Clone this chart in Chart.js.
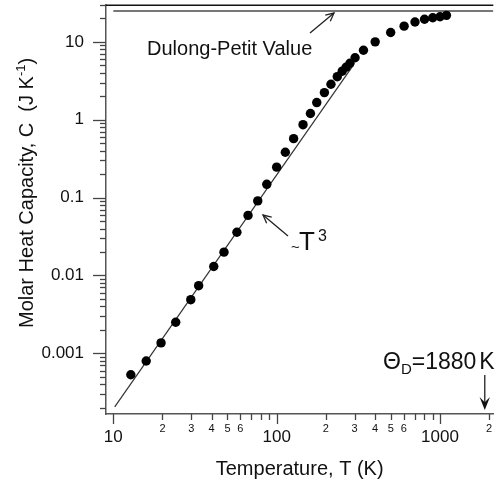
<!DOCTYPE html>
<html>
<head>
<meta charset="utf-8">
<script src="https://cdn.jsdelivr.net/npm/chart.js@4.4.0/dist/chart.umd.min.js"></script>
<style>
  html, body { margin: 0; padding: 0; background: #fff; }
  #wrap { width: 498px; height: 484px; }
</style>
</head>
<body>
<div id="wrap"><canvas id="heatChart" width="498" height="484"></canvas></div>
<script>
// measured molar heat capacity: temperature (K) and C (J/K)
const temps = [12.8, 15.9, 19.6, 24.1, 29.8, 33.3, 41.2, 47.6, 57.1, 66.8, 76.6, 87.0,
  100, 113, 127, 145, 161, 176, 196, 215, 235, 252, 266, 281, 302, 340, 401, 499,
  603, 703, 804, 903, 1000, 1095];
const heatCap = [5.3e-4, 7.95e-4, 1.36e-3, 2.5e-3, 4.88e-3, 7.38e-3, 0.013, 0.0199,
  0.0358, 0.059, 0.0906, 0.148, 0.246, 0.382, 0.571, 0.863, 1.2, 1.66, 2.23, 2.85,
  3.57, 4.2, 4.72, 5.31, 6.25, 7.79, 10.0, 13.2, 15.9, 18.0, 19.5, 20.4, 21.0, 21.9];

// ~T^3 guide line (end points)
const t3Temps = [10.2, 294];
const t3Cap = [2.05e-4, 5.0];

// Dulong-Petit value, 3R
const dpTemps = [10, 2120];
const dpCap = [24.94, 24.94];

const debyeTemp = 1880;

// axis ticks
const xMajor = [10, 100, 1000];
const xMajorLabels = ['10', '100', '1000'];
const xMinorLabels = ['2', '3', '4', '5', '6'];
const yMajor = [0.001, 0.01, 0.1, 1, 10];
const yMajorLabels = ['0.001', '0.01', '0.1', '1', '10'];

const FONT = "'Liberation Sans', Arial, Helvetica, sans-serif";
const X_MIN = 9.02, X_MAX = 2120, Y_MIN = 1.66e-4, Y_MAX = 30;

function logTicks(min, max) {
  const out = [];
  for (let e = Math.floor(Math.log10(min)); e <= Math.ceil(Math.log10(max)); e++) {
    for (let m = 1; m <= 9; m++) {
      const v = m * Math.pow(10, e);
      if (v >= min * 0.999 && v <= max * 1.001) out.push(v);
    }
  }
  return out;
}

function mantissa(v) {
  return Math.round(v / Math.pow(10, Math.floor(Math.log10(v) + 1e-9)));
}

function majorLabel(v, majors, labels) {
  const i = majors.findIndex(m => Math.abs(m - v) / m < 1e-6);
  return i >= 0 ? labels[i] : '';
}

function noPadding(s) {
  s.paddingLeft = 0;
  s.paddingRight = 0;
  s.paddingTop = 0;
  s.paddingBottom = 0;
}

function arrow(ctx, x1, y1, x2, y2, filled) {
  const a = Math.atan2(y2 - y1, x2 - x1);
  const len = filled ? 14 : 9, spread = filled ? 0.38 : 0.45;
  ctx.beginPath();
  ctx.moveTo(x1, y1);
  ctx.lineTo(filled ? x2 - Math.cos(a) * 6 : x2, filled ? y2 - Math.sin(a) * 6 : y2);
  ctx.stroke();
  ctx.beginPath();
  ctx.moveTo(x2 - len * Math.cos(a - spread), y2 - len * Math.sin(a - spread));
  ctx.lineTo(x2, y2);
  ctx.lineTo(x2 - len * Math.cos(a + spread), y2 - len * Math.sin(a + spread));
  if (filled) {
    ctx.lineTo(x2 - len * 0.55 * Math.cos(a), y2 - len * 0.55 * Math.sin(a));
    ctx.closePath();
    ctx.fill();
  } else {
    ctx.stroke();
  }
}

const overlay = {
  id: 'overlay',
  afterDraw(chart) {
    const { ctx, chartArea: area, scales: { x, y } } = chart;
    ctx.save();

    // top frame line
    ctx.strokeStyle = '#111';
    ctx.lineWidth = 1.5;
    ctx.beginPath();
    ctx.moveTo(area.left, area.top + 0.5);
    ctx.lineTo(area.right, area.top + 0.5);
    ctx.stroke();

    // tick marks
    ctx.strokeStyle = '#444';
    ctx.lineWidth = 1.3;
    x.ticks.forEach(t => {
      const px = Math.round(x.getPixelForValue(t.value)) + 0.5;
      const len = majorLabel(t.value, xMajor, xMajorLabels) ? 10 : 6;
      ctx.beginPath();
      ctx.moveTo(px, area.bottom);
      ctx.lineTo(px, area.bottom + len);
      ctx.stroke();
    });
    y.ticks.forEach(t => {
      const py = Math.round(y.getPixelForValue(t.value)) + 0.5;
      const len = majorLabel(t.value, yMajor, yMajorLabels) ? 13 : 6;
      ctx.beginPath();
      ctx.moveTo(area.left - len, py);
      ctx.lineTo(area.left, py);
      ctx.stroke();
    });

    // small minor labels on the temperature axis
    ctx.fillStyle = '#111';
    ctx.font = '11px ' + FONT;
    ctx.textAlign = 'center';
    ctx.textBaseline = 'top';
    x.ticks.forEach(t => {
      const m = mantissa(t.value);
      if (m >= 2 && m <= 6) {
        ctx.fillText(xMinorLabels[m - 2], x.getPixelForValue(t.value), area.bottom + 9);
      }
    });

    // y axis title with superscript
    ctx.save();
    ctx.translate(33, 328);
    ctx.rotate(-Math.PI / 2);
    ctx.textAlign = 'left';
    ctx.textBaseline = 'alphabetic';
    let cx = 0;
    ctx.font = '20px ' + FONT;
    const main = 'Molar Heat Capacity, C  (J K';
    ctx.fillText(main, cx, 0);
    cx += ctx.measureText(main).width;
    ctx.font = '13px ' + FONT;
    ctx.fillText('-1', cx, -8);
    cx += ctx.measureText('-1').width;
    ctx.font = '20px ' + FONT;
    ctx.fillText(')', cx, 0);
    ctx.restore();

    // annotations
    ctx.textAlign = 'left';
    ctx.textBaseline = 'alphabetic';
    ctx.font = '20px ' + FONT;
    ctx.fillText('Dulong-Petit Value', 147, 55);

    ctx.font = '15px ' + FONT;
    ctx.fillText('~', 291, 252);
    ctx.font = '26px ' + FONT;
    ctx.fillText('T', 299, 250);
    const tw = ctx.measureText('T').width;
    ctx.font = '16px ' + FONT;
    ctx.fillText('3', 299 + tw + 3, 241);

    let tx = 383;
    ctx.font = '23px ' + FONT;
    ctx.fillText('\u0398', tx, 369);
    tx += ctx.measureText('\u0398').width;
    ctx.font = '15px ' + FONT;
    ctx.fillText('D', tx, 374);
    tx += ctx.measureText('D').width;
    ctx.font = '23px ' + FONT;
    ctx.fillText('=1880', tx, 369);
    tx += ctx.measureText('=1880').width + 3;
    ctx.fillText('K', tx, 369);

    ctx.strokeStyle = '#222';
    ctx.fillStyle = '#111';
    ctx.lineWidth = 1.3;
    arrow(ctx, 310, 33, 334, 13, false);
    arrow(ctx, 288, 236, 263, 215, false);
    const dx = x.getPixelForValue(debyeTemp);
    arrow(ctx, dx, 375, dx, 410, true);

    ctx.restore();
  }
};

const ctx = document.getElementById('heatChart').getContext('2d');
new Chart(ctx, {
  type: 'scatter',
  data: {
    datasets: [
      {
        label: 'C',
        data: temps.map((t, i) => ({ x: t, y: heatCap[i] })),
        backgroundColor: '#000',
        borderColor: '#000',
        pointRadius: 4.7,
        pointBorderWidth: 0
      },
      {
        label: 'T3',
        data: t3Temps.map((t, i) => ({ x: t, y: t3Cap[i] })),
        showLine: true,
        borderColor: '#333',
        borderWidth: 1.2,
        pointRadius: 0
      },
      {
        label: 'Dulong-Petit',
        data: dpTemps.map((t, i) => ({ x: t, y: dpCap[i] })),
        showLine: true,
        borderColor: '#777',
        borderWidth: 2,
        pointRadius: 0
      }
    ]
  },
  options: {
    responsive: false,
    animation: false,
    devicePixelRatio: 1,
    layout: { padding: { top: 3, left: 0, right: 0, bottom: 0 } },
    plugins: {
      legend: { display: false },
      tooltip: { enabled: false }
    },
    scales: {
      x: {
        type: 'logarithmic',
        min: X_MIN,
        max: X_MAX,
        afterBuildTicks: s => { s.ticks = logTicks(10, 2000).map(v => ({ value: v })); },
        afterFit: s => { s.height = 70; noPadding(s); },
        grid: { display: false, drawTicks: false },
        border: { display: true, color: '#555', width: 1.5 },
        ticks: {
          autoSkip: false,
          maxRotation: 0,
          padding: 13,
          color: '#111',
          font: { family: FONT, size: 17 },
          callback: v => majorLabel(v, xMajor, xMajorLabels)
        },
        title: {
          display: true,
          text: 'Temperature, T (K)',
          color: '#111',
          font: { family: FONT, size: 20 },
          padding: { top: 0, bottom: 3 }
        }
      },
      y: {
        type: 'logarithmic',
        min: Y_MIN,
        max: Y_MAX,
        afterBuildTicks: s => { s.ticks = logTicks(2e-4, 30).map(v => ({ value: v })); },
        afterFit: s => { s.width = 106; noPadding(s); },
        grid: { display: false, drawTicks: false },
        border: { display: true, color: '#555', width: 1.5 },
        ticks: {
          autoSkip: false,
          padding: 22,
          color: '#111',
          font: { family: FONT, size: 17 },
          callback: v => majorLabel(v, yMajor, yMajorLabels)
        }
      }
    }
  },
  plugins: [overlay]
});
</script>
</body>
</html>
